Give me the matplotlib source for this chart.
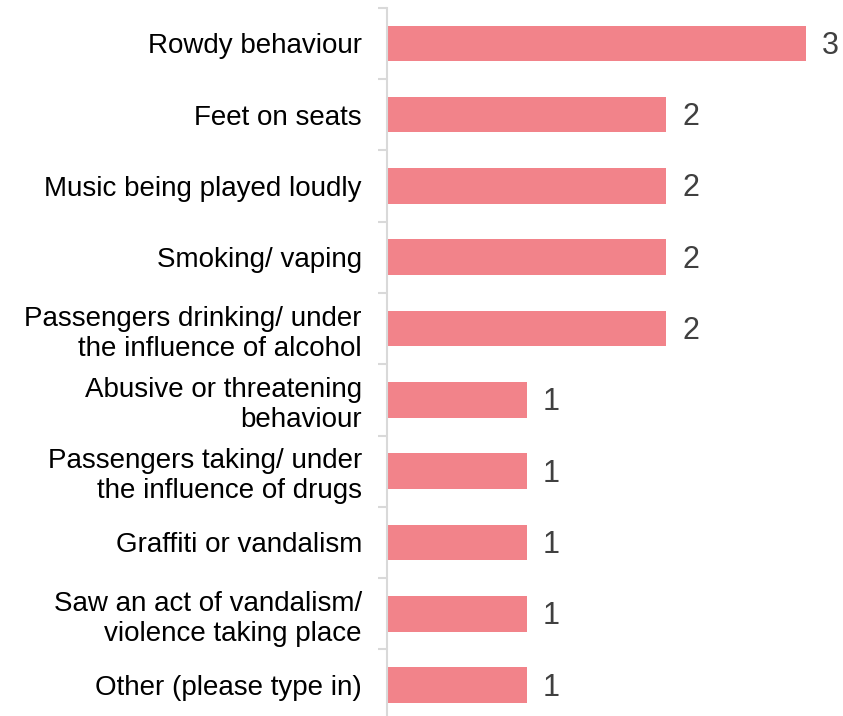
import numpy as np
import matplotlib.pyplot as plt

plt.rcParams['font.family'] = ['Liberation Sans', 'DejaVu Sans']

categories = [
    "Rowdy behaviour",
    "Feet on seats",
    "Music being played loudly",
    "Smoking/ vaping",
    "Passengers drinking/ under\nthe influence of alcohol",
    "Abusive or threatening\nbehaviour",
    "Passengers taking/ under\nthe influence of drugs",
    "Graffiti or vandalism",
    "Saw an act of vandalism/\nviolence taking place",
    "Other (please type in)",
]
values = [3, 2, 2, 2, 2, 1, 1, 1, 1, 1]

bar_color = "#F2838A"
axis_color = "#D9D9D9"

fig = plt.figure(figsize=(8.43, 7.16), dpi=100)
ax = fig.add_axes([387 / 843, -4.7 / 716, 456 / 843, 713 / 716])

y = np.arange(len(categories))
ax.barh(y, values, height=0.5, color=bar_color)

# value labels, nudged down a little so the digits sit on the bar centre
for yi, v in zip(y, values):
    ax.text(v + 0.115, yi + 0.035, str(v), va="center", ha="left",
            fontsize=22, color="#404040", clip_on=False)

ax.set_xlim(0, 456 / 139.7)
ax.set_ylim(len(categories) - 0.5, -0.5)

ax.set_yticks(y)
ax.set_yticklabels(categories, fontsize=20, color="#000000")
ax.set_yticks(np.arange(len(categories) + 1) - 0.5, minor=True)
ax.tick_params(axis="y", which="major", length=0, pad=18)
ax.tick_params(axis="y", which="minor", length=6.5, width=1.5,
               color=axis_color)
ax.set_xticks([])

for side in ["top", "right", "bottom"]:
    ax.spines[side].set_visible(False)
ax.spines["left"].set_color(axis_color)
ax.spines["left"].set_linewidth(1.5)

fig.savefig("out.png", dpi=100)
